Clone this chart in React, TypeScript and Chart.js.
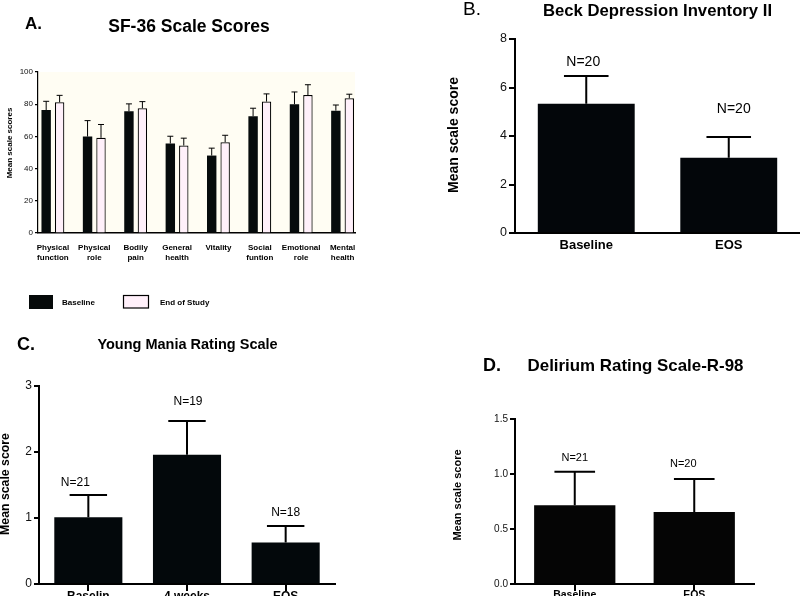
import React, { useEffect, useRef } from "react";
import { Chart, registerables } from "chart.js";
Chart.register(...registerables);

const FONT = "'Liberation Sans', Arial, Helvetica, sans-serif";

// ---------- Panel A: SF-36 ----------
const sf36Categories: string[][] = [
  ["Physical", "function"],
  ["Physical", "role"],
  ["Bodily", "pain"],
  ["General", "health"],
  ["Vitality"],
  ["Social", "funtion"],
  ["Emotional", "role"],
  ["Mental", "health"],
];
const sf36Baseline = [76.4, 59.9, 75.6, 55.6, 48.1, 72.5, 80.0, 76.0];
const sf36BaselineErr = [5.4, 9.9, 4.6, 4.5, 4.6, 5.0, 7.6, 3.5];
const sf36EndOfStudy = [81.2, 59.1, 77.5, 54.3, 56.4, 81.6, 85.7, 83.7];
const sf36EndOfStudyErr = [4.3, 8.3, 4.1, 4.6, 4.3, 4.8, 6.4, 2.5];
const sf36SeriesNames = ["Baseline", "End of Study"];

// ---------- Panel B: Beck Depression Inventory II ----------
const bdiCategories = ["Baseline", "EOS"];
const bdiValues = [5.33, 3.1];
const bdiErr = [1.14, 0.86];
const bdiN = ["N=20", "N=20"];

// ---------- Panel C: Young Mania Rating Scale ----------
const ymrsCategories = ["Baselin", "4 weeks", "EOS"];
const ymrsValues = [1.01, 1.96, 0.63];
const ymrsErr = [0.34, 0.51, 0.25];
const ymrsN = ["N=21", "N=19", "N=18"];

// ---------- Panel D: Delirium Rating Scale-R-98 ----------
const drsCategories = ["Baseline", "EOS"];
const drsValues = [0.716, 0.655];
const drsErr = [0.305, 0.3];
const drsN = ["N=21", "N=20"];

type TextItem = {
  text: string;
  x: number;
  y: number;
  font: string;
  align?: CanvasTextAlign;
  rotate?: boolean;
  color?: string;
};
type Box = { x: number; y: number; w: number; h: number; fill: string; stroke?: string };

function overlay(opts: {
  ox: number;
  oy: number;
  bg?: string;
  texts: TextItem[];
  boxes?: Box[];
  err: { lineWidth: number; cap: number; capIsRatio?: boolean };
  nLabels?: { labels: string[]; gaps: number[]; dx: number[]; font: string };
}) {
  return {
    id: "overlay",
    beforeDraw(chart: any) {
      if (!opts.bg) return;
      const { left, top, width, height } = chart.chartArea;
      const ctx = chart.ctx;
      ctx.save();
      ctx.fillStyle = opts.bg;
      ctx.fillRect(left, top, width, height);
      ctx.restore();
    },
    afterDatasetsDraw(chart: any) {
      const ctx = chart.ctx;
      const yScale = chart.scales.y;
      ctx.save();
      chart.data.datasets.forEach((ds: any, di: number) => {
        const meta = chart.getDatasetMeta(di);
        const errs: number[] = ds.errors;
        if (!errs) return;
        meta.data.forEach((el: any, i: number) => {
          const raw = ds.data[i];
          const v = typeof raw === "number" ? raw : raw.y;
          const top = yScale.getPixelForValue(v + errs[i]);
          const capW = opts.err.capIsRatio ? el.width * opts.err.cap : opts.err.cap;
          ctx.strokeStyle = "#000";
          ctx.lineWidth = opts.err.lineWidth;
          ctx.beginPath();
          ctx.moveTo(el.x, el.y);
          ctx.lineTo(el.x, top);
          ctx.moveTo(el.x - capW / 2, top);
          ctx.lineTo(el.x + capW / 2, top);
          ctx.stroke();
          if (opts.nLabels && di === 0) {
            ctx.fillStyle = "#000";
            ctx.font = opts.nLabels.font;
            ctx.textAlign = "center";
            ctx.textBaseline = "middle";
            ctx.fillText(
              opts.nLabels.labels[i],
              el.x + opts.nLabels.dx[i],
              top - opts.nLabels.gaps[i]
            );
          }
        });
      });
      ctx.restore();
    },
    afterDraw(chart: any) {
      const ctx = chart.ctx;
      ctx.save();
      (opts.boxes || []).forEach((b) => {
        ctx.fillStyle = b.fill;
        ctx.fillRect(b.x - opts.ox, b.y - opts.oy, b.w, b.h);
        if (b.stroke) {
          ctx.strokeStyle = b.stroke;
          ctx.lineWidth = 1.2;
          ctx.strokeRect(b.x - opts.ox, b.y - opts.oy, b.w, b.h);
        }
      });
      opts.texts.forEach((t) => {
        ctx.save();
        ctx.font = t.font;
        ctx.fillStyle = t.color || "#000";
        ctx.textAlign = t.align || "center";
        ctx.textBaseline = "middle";
        ctx.translate(t.x - opts.ox, t.y - opts.oy);
        if (t.rotate) ctx.rotate(-Math.PI / 2);
        ctx.fillText(t.text, 0, 0);
        ctx.restore();
      });
      ctx.restore();
    },
  };
}

function yAxis(min: number, max: number, step: number, fontPx: number, tickLen: number, lw: number, width: number, fmt?: (v: number) => string) {
  return {
    type: "linear",
    min,
    max,
    afterFit: (s: any) => {
      s.width = width;
    },
    ticks: {
      stepSize: step,
      color: "#111",
      padding: 2,
      font: { family: FONT, size: fontPx },
      callback: (v: any) => (fmt ? fmt(Number(v)) : String(v)),
    },
    grid: {
      display: true,
      drawOnChartArea: false,
      drawTicks: true,
      tickLength: tickLen,
      color: "#000",
      lineWidth: lw,
    },
    border: { display: true, color: "#000", width: lw },
  };
}

function xCatAxis(fontPx: number, ticksOn: boolean, padding: number, height: number) {
  return {
    type: "category",
    offset: true,
    afterFit: (s: any) => {
      s.height = height;
    },
    ticks: {
      color: "#000",
      padding,
      maxRotation: 0,
      autoSkip: false,
      font: { family: FONT, size: fontPx, weight: "bold" },
    },
    grid: ticksOn
      ? { display: true, drawOnChartArea: false, drawTicks: true, tickLength: 7, offset: false, color: "#000", lineWidth: 2 }
      : { display: false, drawTicks: false },
    border: { display: true, color: "#000", width: 2 },
  };
}

const baseOpts = {
  responsive: false,
  animation: false,
  events: [],
};

export default function App() {
  const refA = useRef<HTMLCanvasElement>(null);
  const refB = useRef<HTMLCanvasElement>(null);
  const refC = useRef<HTMLCanvasElement>(null);
  const refD = useRef<HTMLCanvasElement>(null);

  useEffect(() => {
    const charts: Chart[] = [];

    // Panel A
    charts.push(
      new Chart(refA.current as HTMLCanvasElement, {
        type: "bar",
        data: {
          datasets: [
            {
              label: sf36SeriesNames[0],
              data: sf36Baseline.map((y, i) => ({ x: i, y })),
              errors: sf36BaselineErr,
              backgroundColor: "#060b0c",
              borderWidth: 0,
              categoryPercentage: 0.65,
              barPercentage: 0.7,
            } as any,
            {
              label: sf36SeriesNames[1],
              data: sf36EndOfStudy.map((y, i) => ({ x: i, y })),
              errors: sf36EndOfStudyErr,
              backgroundColor: "#fff0fa",
              borderColor: "#000",
              borderWidth: 1.2,
              categoryPercentage: 0.65,
              barPercentage: 0.7,
            } as any,
          ],
        },
        options: {
          ...baseOpts,
          layout: { padding: { left: 8, top: 72, right: 45, bottom: 52 } },
          plugins: { legend: { display: false }, tooltip: { enabled: false }, title: { display: false } },
          scales: {
            x: {
              type: "linear",
              offset: false,
              min: -0.36,
              max: 7.3,
              afterFit: (s: any) => {
                s.height = 30;
              },
              ticks: {
                stepSize: 1,
                includeBounds: false,
                autoSkip: false,
                maxRotation: 0,
                padding: 10,
                color: "#000",
                font: { family: FONT, size: 8, weight: "bold", lineHeight: 1.25 },
                callback: (v: any) => {
                  const n = Number(v);
                  return Number.isInteger(n) && sf36Categories[n] ? sf36Categories[n] : "";
                },
              },
              grid: { display: false, drawTicks: false, offset: false },
              border: { display: true, color: "#000", width: 1.5 },
            },
            y: yAxis(0, 100, 20, 8, 3, 1.2, 30),
          } as any,
        },
        plugins: [
          overlay({
            ox: 0,
            oy: 0,
            bg: "#fffdf3",
            err: { lineWidth: 1, cap: 6 },
            boxes: [
              { x: 29, y: 295, w: 24, h: 14, fill: "#050909" },
              { x: 123.5, y: 295.5, w: 25, h: 12.5, fill: "#fff0fa", stroke: "#000" },
            ],
            texts: [
              { text: "A.", x: 33.5, y: 24, font: `bold 17px ${FONT}` },
              { text: "SF-36 Scale Scores", x: 189, y: 27, font: `bold 17.5px ${FONT}` },
              { text: "Mean scale scores", x: 10, y: 143, font: `bold 8px ${FONT}`, rotate: true },
              { text: sf36SeriesNames[0], x: 62, y: 303, font: `bold 8px ${FONT}`, align: "left" },
              { text: sf36SeriesNames[1], x: 160, y: 303, font: `bold 8px ${FONT}`, align: "left" },
            ],
          }),
        ],
      } as any)
    );

    // Panel B
    charts.push(
      new Chart(refB.current as HTMLCanvasElement, {
        type: "bar",
        data: {
          labels: bdiCategories,
          datasets: [
            {
              data: bdiValues,
              errors: bdiErr,
              backgroundColor: "#03060a",
              borderWidth: 0,
              categoryPercentage: 1,
              barPercentage: 0.68,
            } as any,
          ],
        },
        options: {
          ...baseOpts,
          layout: { padding: { left: 75, top: 39, right: 0, bottom: 37 } },
          plugins: { legend: { display: false }, tooltip: { enabled: false } },
          scales: {
            x: xCatAxis(13, false, 5, 30),
            y: yAxis(0, 8, 2, 12.5, 6, 2, 40),
          } as any,
        },
        plugins: [
          overlay({
            ox: 400,
            oy: 0,
            err: { lineWidth: 2, cap: 0.46, capIsRatio: true },
            nLabels: { labels: bdiN, gaps: [14, 28], dx: [-3, 5], font: `14px ${FONT}` },
            texts: [
              { text: "B.", x: 472, y: 10, font: `19px ${FONT}` },
              { text: "Beck Depression Inventory II", x: 657.5, y: 11, font: `bold 16.7px ${FONT}` },
              { text: "Mean scale score", x: 454, y: 135, font: `bold 14px ${FONT}`, rotate: true },
            ],
          }),
        ],
      } as any)
    );

    // Panel C
    charts.push(
      new Chart(refC.current as HTMLCanvasElement, {
        type: "bar",
        data: {
          labels: ymrsCategories,
          datasets: [
            {
              data: ymrsValues,
              errors: ymrsErr,
              backgroundColor: "#03080b",
              borderWidth: 0,
              categoryPercentage: 1,
              barPercentage: 0.69,
            } as any,
          ],
        },
        options: {
          ...baseOpts,
          layout: { padding: { left: 9, top: 71, right: 65, bottom: 6 } },
          plugins: { legend: { display: false }, tooltip: { enabled: false } },
          scales: {
            x: xCatAxis(12, true, -2, 12),
            y: yAxis(0, 3, 1, 12, 5, 2, 30),
          } as any,
        },
        plugins: [
          overlay({
            ox: 0,
            oy: 315,
            err: { lineWidth: 2, cap: 0.55, capIsRatio: true },
            nLabels: { labels: ymrsN, gaps: [12, 19, 13], dx: [-13, 1, 0], font: `12px ${FONT}` },
            texts: [
              { text: "C.", x: 26, y: 345, font: `bold 18px ${FONT}` },
              { text: "Young Mania Rating Scale", x: 187.5, y: 345, font: `bold 14.5px ${FONT}` },
              { text: "Mean scale score", x: 6, y: 484, font: `bold 12.3px ${FONT}`, rotate: true },
            ],
          }),
        ],
      } as any)
    );

    // Panel D
    charts.push(
      new Chart(refD.current as HTMLCanvasElement, {
        type: "bar",
        data: {
          labels: drsCategories,
          datasets: [
            {
              data: drsValues,
              errors: drsErr,
              backgroundColor: "#050505",
              borderWidth: 0,
              categoryPercentage: 1,
              barPercentage: 0.68,
            } as any,
          ],
        },
        options: {
          ...baseOpts,
          layout: { padding: { left: 75, top: 119, right: 46, bottom: 6 } },
          plugins: { legend: { display: false }, tooltip: { enabled: false } },
          scales: {
            x: xCatAxis(10.5, true, -2, 12),
            y: yAxis(0, 1.5, 0.5, 10, 5, 2, 40, (v) => v.toFixed(1)),
          } as any,
        },
        plugins: [
          overlay({
            ox: 400,
            oy: 300,
            err: { lineWidth: 2, cap: 0.5, capIsRatio: true },
            nLabels: { labels: drsN, gaps: [14, 15], dx: [0, -11], font: `11px ${FONT}` },
            texts: [
              { text: "D.", x: 492, y: 366, font: `bold 18px ${FONT}` },
              { text: "Delirium Rating Scale-R-98", x: 635.5, y: 366, font: `bold 16.9px ${FONT}` },
              { text: "Mean scale score", x: 458, y: 495, font: `bold 11px ${FONT}`, rotate: true },
            ],
          }),
        ],
      } as any)
    );

    return () => charts.forEach((c) => c.destroy());
  }, []);

  const abs = (left: number, top: number): React.CSSProperties => ({ position: "absolute", left, top });

  return (
    <div style={{ position: "absolute", left: 0, top: 0, width: 800, height: 602, background: "#fff", overflow: "hidden" }}>
      <canvas ref={refA} width={400} height={315} style={abs(0, 0)} />
      <canvas ref={refB} width={400} height={300} style={abs(400, 0)} />
      <canvas ref={refC} width={400} height={287} style={abs(0, 315)} />
      <canvas ref={refD} width={400} height={302} style={abs(400, 300)} />
    </div>
  );
}
